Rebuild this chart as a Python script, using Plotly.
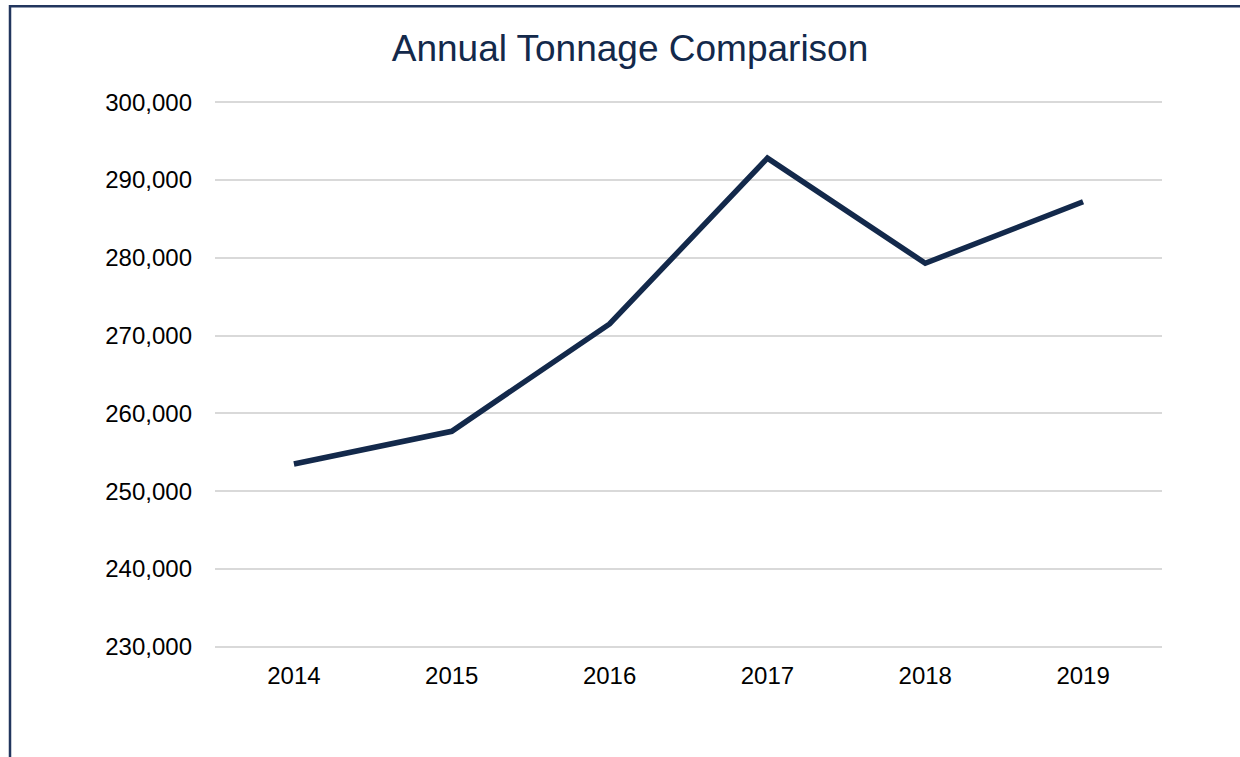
import plotly.graph_objects as go

years = ["2014", "2015", "2016", "2017", "2018", "2019"]
tonnage = [253500, 257700, 271500, 292800, 279300, 287200]
y_ticks = [230000, 240000, 250000, 260000, 270000, 280000, 290000, 300000]

W, H = 1240, 757
PAD = 150  # small data padding so edge gridlines are drawn
px_per_unit = 545 / 70000
L, R = 215, 78
T = 102 - PAD * px_per_unit
B = (H - 647) - PAD * px_per_unit
pw, ph = W - L - R, H - T - B

def px_x(p):
    return (p - L) / pw

def px_y(p):
    return (H - B - p) / ph

fig = go.Figure()
fig.add_trace(go.Scatter(
    x=years, y=tonnage, mode="lines",
    line=dict(color="#13294B", width=5.5),
    hoverinfo="x+y",
))

fig.update_layout(
    width=W, height=H,
    margin=dict(l=L, r=R, t=T, b=B, autoexpand=False),
    paper_bgcolor="white", plot_bgcolor="white",
    showlegend=False,
    font=dict(family="Liberation Sans, Arial, sans-serif", size=24, color="#000000"),
    title=dict(text="Annual Tonnage Comparison", x=630 / W, xref="container",
               xanchor="center", y=1 - 48 / H, yanchor="middle",
               font=dict(size=37, color="#13294B")),
    xaxis=dict(type="category", range=[-0.5, 5.5], showgrid=False,
               showline=False, zeroline=False, ticks="", ticklabelstandoff=11),
    yaxis=dict(range=[230000 - PAD, 300000 + PAD], tickvals=y_ticks,
               tickformat=",d", showgrid=True, gridcolor="#D9D9D9", gridwidth=1.5,
               zeroline=False, showline=False, ticks="", ticklabelstandoff=22),
    shapes=[dict(type="rect", xref="paper", yref="paper",
                 x0=px_x(10), x1=px_x(1270), y0=px_y(790), y1=px_y(6),
                 line=dict(color="#22365E", width=2.5), fillcolor="rgba(0,0,0,0)",
                 layer="above")],
)

fig.write_html("out.html", config={"displayModeBar": False},
               post_script="document.body.style.margin='0';")
